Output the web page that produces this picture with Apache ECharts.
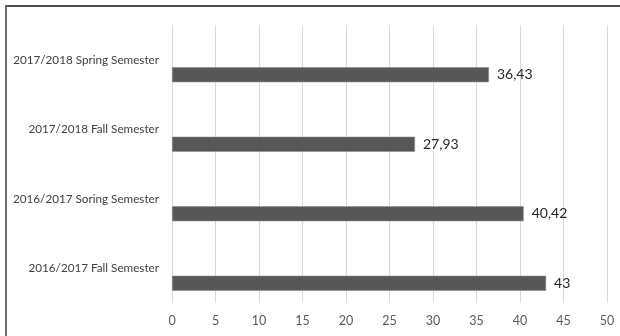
<!DOCTYPE html>
<html>
<head>
<meta charset="utf-8">
<script src="https://cdn.jsdelivr.net/npm/echarts@6/dist/echarts.min.js"></script>
<style>
  html, body { margin: 0; padding: 0; background: #fff; }
  #chart { width: 620px; height: 336px; }
</style>
</head>
<body>
<div id="chart"></div>
<script>
// Semesters, bottom to top along the category axis
const semesters = [
  '2016/2017 Fall Semester',
  '2016/2017 Soring Semester',
  '2017/2018 Fall Semester',
  '2017/2018 Spring Semester'
];
const scores = [43, 40.42, 27.93, 36.43];
// Empty companion series: takes the upper slot so the bars sit below each label
const blankSlot = ['-', '-', '-', '-'];
const axisMin = 0;
const axisMax = 50;
const axisStep = 5;

const fontFamily = 'Lato, "Noto Sans", sans-serif';

const chart = echarts.init(document.getElementById('chart'), null, { renderer: 'canvas' });

chart.setOption({
  animation: false,
  backgroundColor: '#ffffff',
  grid: { left: 172, right: 13, top: 25, bottom: 33, containLabel: false },
  xAxis: {
    type: 'value',
    min: axisMin,
    max: axisMax,
    interval: axisStep,
    axisLine: { show: false },
    axisTick: { show: false },
    splitLine: { show: true, lineStyle: { color: '#d9d9d9', width: 1 } },
    axisLabel: { color: '#595959', fontFamily: fontFamily, fontSize: 12.5, margin: 11 }
  },
  yAxis: {
    type: 'category',
    data: semesters,
    axisLine: { show: false },
    axisTick: { show: false },
    splitLine: { show: false },
    axisLabel: { color: '#404040', fontFamily: fontFamily, fontSize: 11.7, margin: 13 }
  },
  series: [
    {
      type: 'bar',
      data: blankSlot,
      barWidth: 15,
      barGap: '100%',
      silent: true
    },
    {
      type: 'bar',
      data: scores,
      barWidth: 15,
      barGap: '100%',
      itemStyle: { color: '#575757', borderColor: '#8a8a8a', borderWidth: 0.6 },
      label: {
        show: true,
        position: 'right',
        distance: 8,
        color: '#262626',
        fontFamily: fontFamily,
        fontSize: 14,
        formatter: p => String(p.value).replace('.', ',')
      }
    }
  ],
  graphic: [
    { type: 'rect', shape: { x: 5, y: 5, width: 615, height: 2 }, style: { fill: '#4d4d4d' }, silent: true },
    { type: 'rect', shape: { x: 5, y: 5, width: 2, height: 331 }, style: { fill: '#6b6b6b' }, silent: true }
  ]
});
</script>
</body>
</html>
